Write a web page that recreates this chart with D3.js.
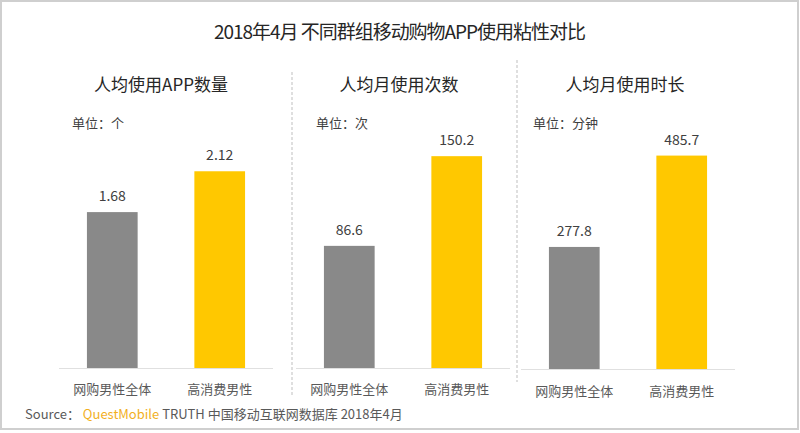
<!DOCTYPE html>
<html><head><meta charset="utf-8">
<script src="https://cdn.jsdelivr.net/npm/d3@7"></script>
<style>body{margin:0;background:#fff}svg{display:block}text{font-family:"Microsoft YaHei","Noto Sans CJK SC",sans-serif}</style>
</head><body>
<script>
const chartTitle = "2018年4月 不同群组移动购物APP使用粘性对比";
const panelTitles = ["人均使用APP数量", "人均月使用次数", "人均月使用时长"];
const unitLabels = ["单位：个", "单位：次", "单位：分钟"];
const categories = ["网购男性全体", "高消费男性"];
const valuesAppCount = [1.68, 2.12];
const valuesMonthlyTimes = [86.6, 150.2];
const valuesMonthlyMinutes = [277.8, 485.7];
const valueLabels = [["1.68", "2.12"], ["86.6", "150.2"], ["277.8", "485.7"]];
const yMaxes = [2.5, 164.5, 528];

const W = 800, H = 433;
const svg = d3.select("body").append("svg").attr("width", W).attr("height", H);
svg.append("rect").attr("x", 1).attr("y", 1).attr("width", W - 3).attr("height", H - 5)
  .attr("fill", "#fff").attr("stroke", "#cfcfcf").attr("stroke-width", 2);

svg.append("text").attr("x", 400).attr("y", 39).attr("text-anchor", "middle")
  .attr("font-size", 19).attr("fill", "#262626").attr("textLength", 372).text(chartTitle);

const panels = [
  { vals: valuesAppCount, x0: 59, x1: 273, base: 368 },
  { vals: valuesMonthlyTimes, x0: 296, x1: 510, base: 368 },
  { vals: valuesMonthlyMinutes, x0: 521, x1: 735, base: 369 }
];
const colors = ["#898989", "#FFC800"];
const titleX = [161, 399, 625];
const unitX = [72, 316, 533];

panels.forEach((p, i) => {
  const g = svg.append("g");
  g.append("text").attr("x", titleX[i]).attr("y", 91).attr("text-anchor", "middle")
    .attr("font-size", 17).attr("fill", "#262626").text(panelTitles[i]);
  g.append("text").attr("x", unitX[i]).attr("y", 128)
    .attr("font-size", 13).attr("fill", "#404040").text(unitLabels[i]);
  const x = d3.scaleBand().domain(categories).range([p.x0, p.x1]).paddingInner(0.528).paddingOuter(0.26);
  const y = d3.scaleLinear().domain([0, yMaxes[i]]).range([p.base, p.base - 232]);
  g.selectAll("rect.bar").data(p.vals).join("rect").attr("class", "bar")
    .attr("x", (d, j) => x(categories[j])).attr("width", x.bandwidth())
    .attr("y", d => y(d)).attr("height", d => p.base - y(d))
    .attr("fill", (d, j) => colors[j]);
  g.selectAll("text.val").data(p.vals).join("text").attr("class", "val")
    .attr("x", (d, j) => x(categories[j]) + x.bandwidth() / 2)
    .attr("y", d => y(d) - 11).attr("text-anchor", "middle")
    .attr("font-size", 14).attr("fill", "#404040").text((d, j) => valueLabels[i][j]);
  g.append("line").attr("x1", p.x0).attr("x2", p.x1).attr("y1", p.base + 0.5).attr("y2", p.base + 0.5)
    .attr("stroke", "#e0e0e0").attr("stroke-width", 1);
  g.selectAll("text.cat").data(categories).join("text").attr("class", "cat")
    .attr("x", d => x(d) + x.bandwidth() / 2).attr("y", i === 2 ? 396 : 394)
    .attr("text-anchor", "middle").attr("font-size", 13).attr("fill", "#595959").text(d => d);
});

// dashed dividers
[[292, 72, 395], [517, 60, 382]].forEach(([xx, y1, y2]) => {
  svg.append("line").attr("x1", xx).attr("x2", xx).attr("y1", y1).attr("y2", y2)
    .attr("stroke", "#bfbfbf").attr("stroke-width", 1).attr("stroke-dasharray", "3,2");
});

const src = svg.append("text").attr("x", 25).attr("y", 419).attr("font-size", 13).attr("fill", "#595959");
src.append("tspan").text("Source： ");
src.append("tspan").attr("fill", "#F2B01E").text("QuestMobile");
src.append("tspan").text(" TRUTH 中国移动互联网数据库 2018年4月");
</script>
</body></html>
